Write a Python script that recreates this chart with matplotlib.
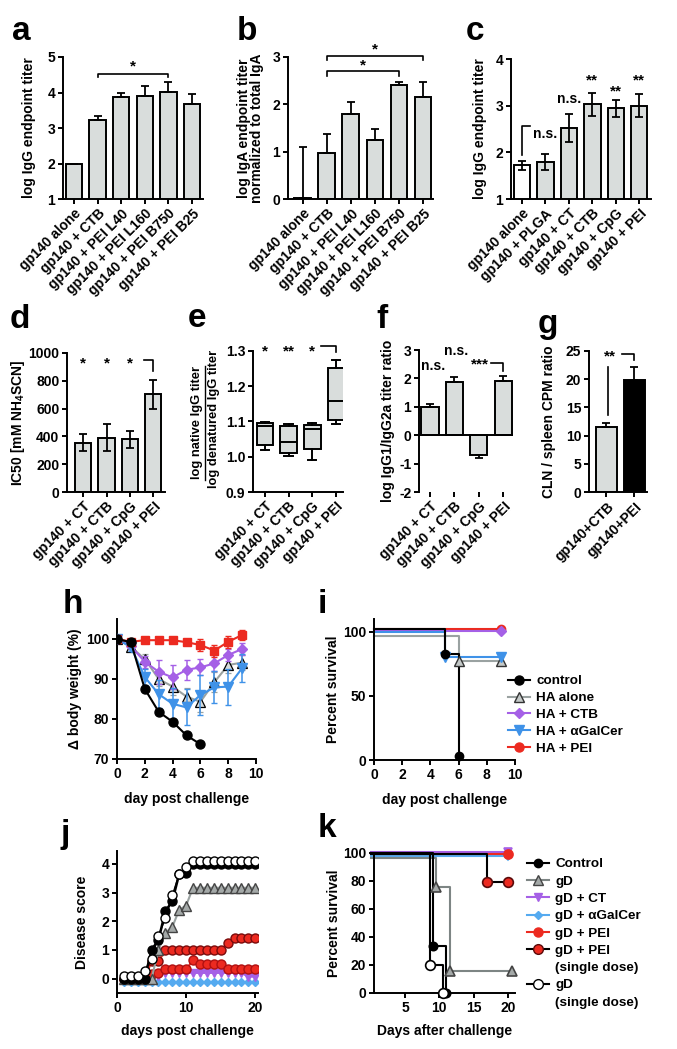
import matplotlib
matplotlib.use('Agg')
import matplotlib.pyplot as plt
from matplotlib.lines import Line2D
import numpy as np

# ---- data ----
# a
a_labels = ['gp140 alone', 'gp140 + CTB', 'gp140 + PEI L40', 'gp140 + PEI L160', 'gp140 + PEI B750', 'gp140 + PEI B25']
a_vals = [2.0, 3.22, 3.86, 3.89, 4.02, 3.68]
a_err = [0.0, 0.13, 0.12, 0.28, 0.27, 0.27]
# b
b_labels = a_labels
b_vals = [0.02, 0.98, 1.80, 1.25, 2.40, 2.15]
b_err = [1.08, 0.40, 0.24, 0.22, 0.07, 0.32]
# c
c_labels = ['gp140 alone', 'gp140 + PLGA', 'gp140 + CT', 'gp140 + CTB', 'gp140 + CpG', 'gp140 + PEI']
c_vals = [1.72, 1.79, 2.53, 3.03, 2.94, 3.00]
c_err = [0.10, 0.17, 0.30, 0.25, 0.18, 0.24]
# d
d_labels = ['gp140 + CT', 'gp140 + CTB', 'gp140 + CpG', 'gp140 + PEI']
d_vals = [356, 391, 379, 704]
d_err = [60, 97, 63, 104]
# e (box plots)
e_labels = d_labels
e_whislo = [1.018, 1.001, 0.992, 1.093]
e_q1 = [1.034, 1.012, 1.022, 1.103]
e_med = [1.086, 1.042, 1.079, 1.157]
e_q3 = [1.097, 1.086, 1.089, 1.251]
e_whishi = [1.099, 1.092, 1.095, 1.275]
# f
f_labels = d_labels
f_vals = [0.98, 1.89, -0.71, 1.91]
f_err = [0.12, 0.17, 0.10, 0.19]
# g
g_labels = ['gp140+CTB', 'gp140+PEI']
g_vals = [11.5, 19.9]
g_err = [0.7, 2.2]
# h
h_days = [0, 1, 2, 3, 4, 5, 6, 7, 8, 9]
h_ctrl_days = [0, 1, 2, 3, 4, 5, 6]
h_ctrl = [100, 99.2, 87.5, 81.8, 79.3, 75.9, 73.7]
h_ha = [100, 98.0, 95.0, 90.0, 88.1, 85.6, 84.3, 89.2, 93.5, 94.1]
h_ha_err = [0, 0.5, 1.2, 1.8, 2.0, 2.2, 2.5, 2.5, 2.0, 1.8]
h_ctb = [100, 98.2, 94.3, 91.8, 90.4, 92.3, 92.9, 93.9, 96.0, 97.5]
h_ctb_err = [0, 0.5, 1.5, 3.0, 3.0, 2.5, 2.0, 2.0, 1.5, 1.5]
h_gal = [100, 98.0, 90.5, 86.2, 83.8, 82.9, 86.0, 87.9, 88.1, 92.7]
h_gal_err = [0, 1.0, 2.0, 3.5, 4.0, 4.5, 5.0, 4.0, 4.5, 3.5]
h_pei = [100, 99.3, 99.7, 99.7, 99.7, 99.2, 98.5, 97.1, 99.3, 101.0]
h_pei_err = [0, 0.3, 0.5, 0.8, 0.8, 0.8, 1.6, 1.5, 1.5, 1.2]
# i (survival)
i_labels = ['control', 'HA alone', 'HA + CTB', 'HA + \u03b1GalCer', 'HA + PEI']
i_ctrl_t, i_ctrl_s = [0, 5, 6], [102, 83, 3]
i_ha_t, i_ha_s = [0, 6, 9], [97, 77, 77]
i_ctb_t, i_ctb_s = [0, 9], [100.5, 100.5]
i_gal_t, i_gal_s = [0, 5, 9], [100, 80, 80]
i_pei_t, i_pei_s = [0, 9], [102, 102]
# j (disease score, days 1-20)
j_days = [1, 2, 3, 4, 5, 6, 7, 8, 9, 10, 11, 12, 13, 14, 15, 16, 17, 18, 19, 20]
j_ctrl = [0, 0, 0, 0, 1.0, 1.35, 2.35, 2.7, 3.65, 3.7, 4.0, 4.0, 4.0, 4.0, 4.0, 4.0, 4.0, 4.0, 4.0, 4.0]
j_gd = [0, 0, 0, 0, 0, 1.0, 1.6, 1.8, 2.4, 2.55, 3.17, 3.17, 3.17, 3.17, 3.17, 3.17, 3.17, 3.17, 3.17, 3.17]
j_ct = [0, 0, 0, 0, 0.05, 0.1, 0.2, 0.2, 0.2, 0.2, 0.2, 0.2, 0.2, 0.2, 0.2, 0.2, 0.2, 0.2, 0.07, 0.07]
j_gal = [-0.1, -0.1, -0.1, -0.1, -0.1, -0.1, -0.1, -0.1, -0.1, -0.1, -0.1, -0.1, -0.1, -0.1, -0.1, -0.1, -0.1, -0.1, -0.1, -0.1]
j_pei = [0, 0, 0, 0, 0.17, 0.2, 0.33, 0.33, 0.33, 0.33, 0.64, 0.52, 0.52, 0.52, 0.52, 0.33, 0.33, 0.33, 0.33, 0.33]
j_pei1 = [0, 0, 0, 0, 0.6, 0.6, 1.0, 1.0, 1.0, 1.0, 1.0, 1.0, 1.0, 1.0, 1.0, 1.24, 1.4, 1.4, 1.4, 1.4]
j_gd1 = [0.1, 0.1, 0.1, 0.28, 0.7, 1.5, 2.1, 2.9, 3.65, 3.9, 4.1, 4.1, 4.1, 4.1, 4.1, 4.1, 4.1, 4.1, 4.1, 4.1]
# k (survival)
k_labels = ['Control', 'gD', 'gD + CT', 'gD + \u03b1GalCer', 'gD + PEI', 'gD + PEI\n(single dose)', 'gD\n(single dose)']
k_ctrl_t, k_ctrl_s = [0, 9.1, 10.9], [100, 33.3, 0]
k_gd_t, k_gd_s = [0, 9.5, 11.5, 20.5], [96.5, 76, 16, 16]
k_ct_t, k_ct_s = [0, 20], [100.8, 100.8]
k_gal_t, k_gal_s = [0, 20], [98, 98]
k_pei_t, k_pei_s = [0, 20], [99, 99]
k_pei1_t, k_pei1_s = [0, 17, 20], [99.5, 79, 79]
k_gd1_t, k_gd1_s = [0, 8.6, 10.5], [100, 20, 0]

# ---- style ----
plt.rcParams['font.family'] = ['Liberation Sans', 'DejaVu Sans']
plt.rcParams['font.weight'] = 'bold'
plt.rcParams['axes.labelweight'] = 'bold'
plt.rcParams['font.size'] = 10
plt.rcParams['axes.linewidth'] = 1.4
plt.rcParams['axes.unicode_minus'] = False
plt.rcParams['xtick.major.width'] = 1.4
plt.rcParams['ytick.major.width'] = 1.4
plt.rcParams['xtick.major.size'] = 3.5
plt.rcParams['ytick.major.size'] = 3.5
plt.rcParams['xtick.major.pad'] = 2
plt.rcParams['ytick.major.pad'] = 2
plt.rcParams['mathtext.fontset'] = 'custom'
plt.rcParams['mathtext.rm'] = 'Liberation Sans:bold'
plt.rcParams['mathtext.bf'] = 'Liberation Sans:bold'
plt.rcParams['mathtext.it'] = 'Liberation Sans:bold'

GREY = '#d9dddc'
RED = '#ec2a20'
PURPLE = '#a560e6'
BLUE = '#3f92e8'
LBLUE = '#55aaf0'
GLINE = '#9aa2a1'

W, H = 677, 1049
fig = plt.figure(figsize=(W / 100, H / 100), dpi=100)


def add_ax(x0, y0, x1, y1):
    ax = fig.add_axes([x0 / W, 1 - y1 / H, (x1 - x0) / W, (y1 - y0) / H])
    ax.spines['top'].set_visible(False)
    ax.spines['right'].set_visible(False)
    return ax


def letter(x, y, s):
    fig.text(x / W, 1 - y / H, s, fontsize=24, fontweight='bold', va='baseline', ha='left')


def bars(ax, labels, vals, lo, hi, colors, xlim, ylim, yticks, width=0.7):
    x = np.arange(len(vals))
    ax.bar(x, vals, width=width, color=colors, edgecolor='black', linewidth=1.4, zorder=2)
    ax.errorbar(x, vals, yerr=[lo, hi], fmt='none', ecolor='black', elinewidth=1.3,
                capsize=3, capthick=1.3, zorder=3)
    ax.set_xlim(*xlim)
    ax.set_ylim(*ylim)
    ax.set_yticks(yticks)
    ax.set_xticks(x)
    ax.set_xticklabels(labels, rotation=45, ha='right', rotation_mode='anchor')


def bracket(ax, xs, ys, lw=1.2):
    ax.plot(xs, ys, color='black', lw=lw, clip_on=False, zorder=4)


def star(ax, x, y, s, fs=11):
    ax.text(x, y, s, ha='center', va='center', fontsize=fs, fontweight='bold', clip_on=False)


# a
ax = add_ax(63, 57, 203, 199)
n = len(a_vals)
bars(ax, a_labels, a_vals, [0] * n, a_err, GREY, (-0.47, 5.47), (1, 5), [1, 2, 3, 4, 5])
ax.set_ylabel('log IgG endpoint titer', labelpad=8)
bracket(ax, [1, 1, 4, 4], [4.44, 4.53, 4.53, 4.44])
star(ax, 2.5, 4.74, '*')
letter(12, 40, 'a')

# b
ax = add_ax(288, 57, 433, 199)
bars(ax, b_labels, b_vals, [0] * n, b_err, GREY, (-0.62, 5.42), (0, 3), [0, 1, 2, 3])
ax.set_ylabel('log IgA endpoint titer\nnormalized to total IgA', labelpad=6, linespacing=0.95)
bracket(ax, [1, 1, 4, 4], [2.59, 2.70, 2.70, 2.59])
star(ax, 2.5, 2.82, '*')
bracket(ax, [1, 1, 5, 5], [2.93, 3.03, 3.03, 2.93])
star(ax, 3.0, 3.15, '*')
letter(237, 40, 'b')

# c
ax = add_ax(511, 59, 651, 199)
bars(ax, c_labels, c_vals, c_err, c_err, ['white'] + [GREY] * 5, (-0.47, 5.5), (1, 4), [1, 2, 3, 4])
ax.set_ylabel('log IgG endpoint titer', labelpad=6)
bracket(ax, [0, 0, 0.36], [1.95, 2.56, 2.56])
star(ax, 1.0, 2.4, 'n.s.', fs=10)
star(ax, 2.0, 3.15, 'n.s.', fs=10)
star(ax, 3.0, 3.55, '**')
star(ax, 4.0, 3.3, '**')
star(ax, 5.0, 3.55, '**')
letter(466, 40, 'c')

# d
ax = add_ax(67, 353, 165, 492)
bars(ax, d_labels, d_vals, d_err, d_err, GREY, (-0.69, 3.5), (0, 1000), [0, 200, 400, 600, 800, 1000])
ax.set_ylabel('IC50 [mM NH$_4$SCN]', labelpad=1)
for xi in range(3):
    star(ax, xi, 925, '*')
bracket(ax, [2.6, 3.0, 3.0], [947, 947, 871])
letter(10, 328, 'd')

# e
ax = add_ax(253, 351, 343, 492)
stats = []
for i in range(4):
    stats.append(dict(whislo=e_whislo[i], q1=e_q1[i], med=e_med[i], q3=e_q3[i], whishi=e_whishi[i], fliers=[]))
ax.bxp(stats, positions=range(4), widths=0.7, patch_artist=True, showfliers=False,
       boxprops=dict(facecolor=GREY, edgecolor='black', linewidth=1.4),
       medianprops=dict(color='black', linewidth=1.4),
       whiskerprops=dict(color='black', linewidth=1.4),
       capprops=dict(color='black', linewidth=1.4))
ax.set_xlim(-0.5, 3.3)
ax.set_ylim(0.9, 1.3)
ax.set_yticks([0.9, 1.0, 1.1, 1.2, 1.3])
ax.set_xticks(range(4))
ax.set_xticklabels(e_labels, rotation=45, ha='right', rotation_mode='anchor')
star(ax, 0, 1.30, '*')
star(ax, 1, 1.30, '**')
star(ax, 2, 1.30, '*')
bracket(ax, [2.35, 3.0, 3.0], [1.314, 1.314, 1.296])
fig.text(197 / W, 1 - 423 / H, 'log native IgG titer', rotation=90, ha='center', va='center', fontsize=9.3)
fig.text(214 / W, 1 - 419 / H, 'log denatured IgG titer', rotation=90, ha='center', va='center', fontsize=9.3)
fig.add_artist(Line2D([205 / W, 205 / W], [1 - 366 / H, 1 - 480 / H], color='black', lw=1.0))
letter(188, 327, 'e')

# f
ax = add_ax(419, 350, 513, 492)
f_lo = [0, 0, f_err[2], 0]
f_hi = [f_err[0], f_err[1], 0, f_err[3]]
bars(ax, f_labels, f_vals, f_lo, f_hi, GREY, (-0.45, 3.4), (-2, 3), [-2, -1, 0, 1, 2, 3])
ax.spines['bottom'].set_visible(False)
ax.axhline(0, color='black', lw=1.4, zorder=4)
ax.set_ylabel('log IgG1/IgG2a titer ratio', labelpad=3)
star(ax, 0.12, 2.42, 'n.s.', fs=10)
star(ax, 1.07, 2.98, 'n.s.', fs=10)
star(ax, 2.05, 2.48, '***')
bracket(ax, [2.5, 3.0, 3.0], [2.53, 2.53, 2.27])
letter(376, 328, 'f')

# g
ax = add_ax(589, 351, 647, 492)
bars(ax, g_labels, g_vals, [0, 0], g_err, [GREY, 'black'], (-0.63, 1.46), (0, 25), [0, 5, 10, 15, 20, 25], width=0.76)
ax.set_ylabel('CLN / spleen CPM ratio', labelpad=7)
bracket(ax, [0.05, 0.05], [13.7, 22.1])
star(ax, 0.12, 24.0, '**')
bracket(ax, [0.55, 1.0, 1.0], [24.5, 24.5, 23.4])
letter(538, 333, 'g')

# h
ax = add_ax(117, 619, 256, 759)
ax.errorbar(h_days, h_ha, yerr=h_ha_err, color=GLINE, lw=1.5, marker='^', ms=7, mfc='#d6dbda', mec='black',
            mew=0.9, elinewidth=1.1, capsize=2.5, ecolor=GLINE, zorder=3)
ax.errorbar(h_days, h_ctb, yerr=h_ctb_err, color=PURPLE, lw=1.5, marker='D', ms=5, mfc=PURPLE, mec=PURPLE,
            elinewidth=1.1, capsize=2.5, zorder=4)
ax.errorbar(h_days, h_gal, yerr=h_gal_err, color=BLUE, lw=1.5, marker='v', ms=6.5, mfc=BLUE, mec=BLUE,
            elinewidth=1.1, capsize=2.5, zorder=5)
ax.errorbar(h_days, h_pei, yerr=h_pei_err, color=RED, lw=1.5, marker='s', ms=6, mfc=RED, mec=RED,
            elinewidth=1.1, capsize=2.5, zorder=6)
ax.plot(h_ctrl_days, h_ctrl, color='black', lw=1.5, marker='o', ms=6.5, zorder=7)
ax.set_xlim(0, 10)
ax.set_ylim(70, 105)
ax.set_xticks([0, 2, 4, 6, 8, 10])
ax.set_yticks([70, 80, 90, 100])
ax.set_xlabel('day post challenge', fontsize=10, labelpad=8)
ax.set_ylabel('\u0394 body weight (%)', fontsize=10, labelpad=3)
letter(63, 613, 'h')

# i
ax = add_ax(374, 619, 515, 760)
i_series = [
    (i_pei_t, i_pei_s, RED, 'o', RED, RED, 6),
    (i_ctb_t, i_ctb_s, PURPLE, 'D', PURPLE, PURPLE, 5),
    (i_ha_t, i_ha_s, GLINE, '^', '#c4c9c8', '#333333', 7),
    (i_gal_t, i_gal_s, BLUE, 'v', BLUE, BLUE, 6.5),
    (i_ctrl_t, i_ctrl_s, 'black', 'o', 'black', 'black', 6),
]
for t, s, c, m, fc, ec, ms in i_series:
    ax.step(t, s, where='post', color=c, lw=1.5, clip_on=False)
    ax.plot(t[1:], s[1:], ls='none', marker=m, ms=ms, mfc=fc, mec=ec, clip_on=False, zorder=5)
ax.set_xlim(0, 10)
ax.set_ylim(0, 110)
ax.set_xticks([0, 2, 4, 6, 8, 10])
ax.set_yticks([0, 50, 100])
ax.set_xlabel('day post challenge', fontsize=10, labelpad=8)
ax.set_ylabel('Percent survival', fontsize=10, labelpad=2)
i_handles = [
    Line2D([], [], color='black', marker='o', ms=6.5, lw=1.5),
    Line2D([], [], color=GLINE, marker='^', ms=7, mfc='#c4c9c8', mec='#333333', lw=1.5),
    Line2D([], [], color=PURPLE, marker='D', ms=5, lw=1.5),
    Line2D([], [], color=BLUE, marker='v', ms=6.5, lw=1.5),
    Line2D([], [], color=RED, marker='o', ms=6.5, lw=1.5),
]
fig.legend(i_handles, i_labels, loc='upper left', bbox_to_anchor=(508 / W, 1 - 675 / H), frameon=False,
           fontsize=9.7, handlelength=1.6, labelspacing=0.33, handletextpad=0.5, borderaxespad=0, borderpad=0)
letter(318, 613, 'i')

# j
ax = add_ax(117, 851, 258, 993)
ax.plot(j_days, j_gal, color=LBLUE, lw=1.5, marker='D', ms=4.5, mec=LBLUE, zorder=2)
ax.plot(j_days, j_ct, color=PURPLE, lw=1.5, marker='v', ms=5.5, mec=PURPLE, zorder=3)
ax.plot(j_days, j_pei, color=RED, lw=1.5, marker='o', ms=6.5, mec='#b01010', zorder=4)
ax.plot(j_days, j_pei1, color=RED, lw=1.5, marker='o', ms=6.5, mec='#7a0a0a', zorder=5)
ax.plot(j_days, j_gd, color=GLINE, lw=1.5, marker='^', ms=6.5, mfc='#a4a9a8', mec='#444444', zorder=6)
ax.plot(j_days, j_ctrl, color='black', lw=1.8, marker='o', ms=6.5, zorder=7)
ax.plot(j_days, j_gd1, color='black', lw=1.0, marker='o', ms=6.5, mfc='white', mec='black', zorder=8)
ax.set_xlim(0, 20.4)
ax.set_ylim(-0.5, 4.45)
ax.set_xticks([0, 10, 20])
ax.set_yticks([0, 1, 2, 3, 4])
ax.set_xlabel('days post challenge', fontsize=10, labelpad=7)
ax.set_ylabel('Disease score', fontsize=10, labelpad=9)
letter(60, 843, 'j')

# k
ax = add_ax(374, 853, 515, 993)
k_series = [
    (k_gal_t, k_gal_s, LBLUE, 'D', LBLUE, LBLUE, 4.5),
    (k_ct_t, k_ct_s, PURPLE, 'v', PURPLE, PURPLE, 6),
    (k_pei_t, k_pei_s, RED, 'o', RED, RED, 6.5),
    (k_pei1_t, k_pei1_s, 'black', 'o', RED, '#5a0a0a', 7),
    (k_gd_t, k_gd_s, '#7d8584', '^', '#a4a9a8', '#444444', 7),
    (k_ctrl_t, k_ctrl_s, 'black', 'o', 'black', 'black', 6),
    (k_gd1_t, k_gd1_s, 'black', 'o', 'white', 'black', 7),
]
for t, s, c, m, fc, ec, ms in k_series:
    ax.step(t, s, where='post', color=c, lw=1.5, clip_on=False)
    ax.plot(t[1:], s[1:], ls='none', marker=m, ms=ms, mfc=fc, mec=ec, mew=1.2, clip_on=False, zorder=5)
ax.set_xlim(0.5, 21)
ax.set_ylim(0, 100)
ax.set_xticks([5, 10, 15, 20])
ax.set_yticks([0, 20, 40, 60, 80, 100])
ax.set_xlabel('Days after challenge', fontsize=10, labelpad=7)
ax.set_ylabel('Percent survival', fontsize=10, labelpad=1.5)
k_handles = [
    Line2D([], [], color='black', marker='o', ms=6, lw=1.5),
    Line2D([], [], color='#7d8584', marker='^', ms=7, mfc='#a4a9a8', mec='#444444', lw=1.5),
    Line2D([], [], color=PURPLE, marker='v', ms=6, lw=1.5),
    Line2D([], [], color=LBLUE, marker='D', ms=4.5, lw=1.5),
    Line2D([], [], color=RED, marker='o', ms=6.5, lw=1.5),
    Line2D([], [], color='black', marker='o', ms=7, mfc=RED, mec='#5a0a0a', lw=1.5),
    Line2D([], [], color='black', marker='o', ms=7, mfc='white', mec='black', lw=1.5),
]
# split two-line labels so the marker sits on the first line
leg_h, leg_l = [], []
for h, lab in zip(k_handles, k_labels):
    parts = lab.split('\n')
    leg_h.append(h)
    leg_l.append(parts[0])
    for p in parts[1:]:
        leg_h.append(Line2D([], [], color='none'))
        leg_l.append(p)
fig.legend(leg_h, leg_l, loc='upper left', bbox_to_anchor=(527 / W, 1 - 858 / H), frameon=False,
           fontsize=9.7, handlelength=1.6, labelspacing=0.36, handletextpad=0.5, borderaxespad=0, borderpad=0)
letter(318, 837, 'k')

fig.savefig('out.png', dpi=100)
